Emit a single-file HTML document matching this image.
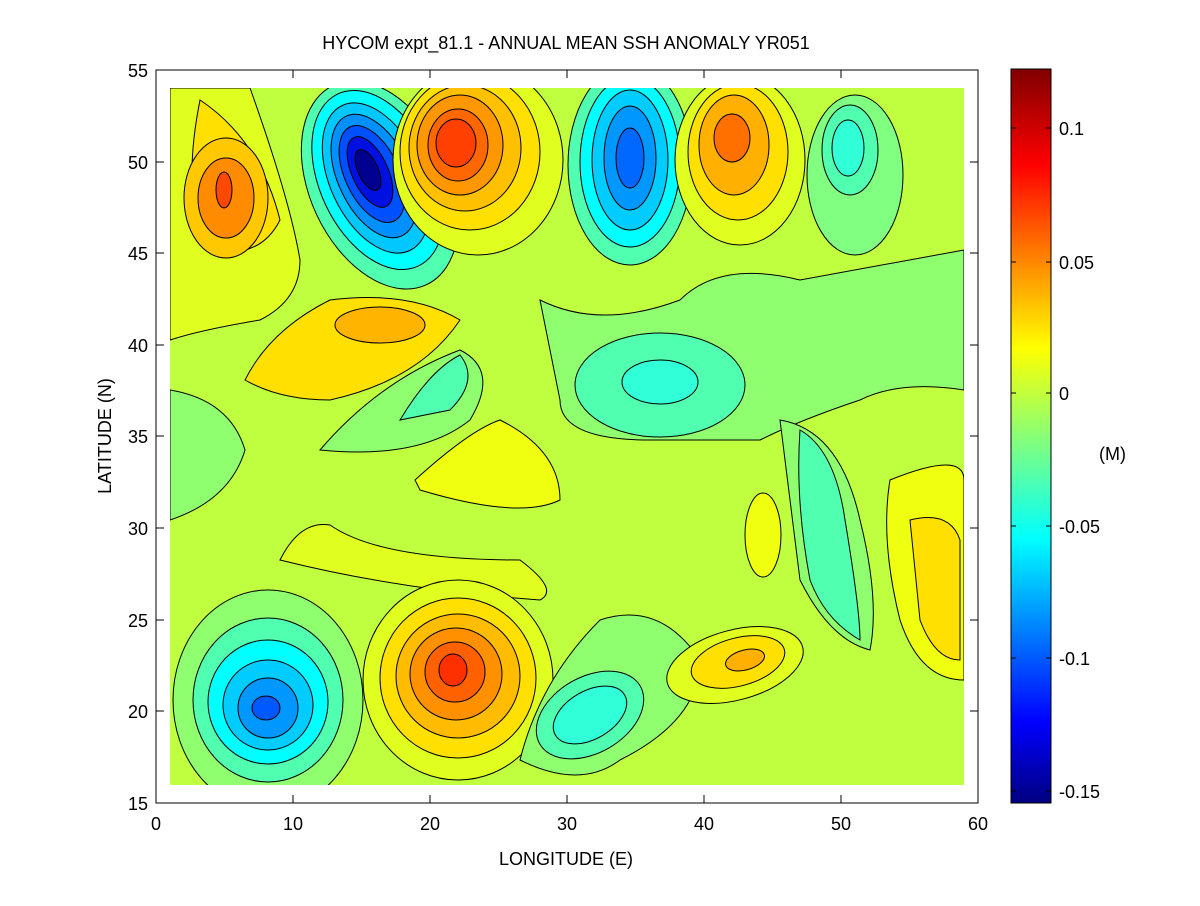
<!DOCTYPE html>
<html><head><meta charset="utf-8"><style>
body{margin:0;background:#fff;}
svg text{font-family:"Liberation Sans",sans-serif;font-size:18px;fill:#000;}
</style></head><body>
<svg width="1200" height="901" xmlns="http://www.w3.org/2000/svg">
<defs>
<clipPath id="c"><rect x="170" y="88" width="794" height="697"/></clipPath>
<linearGradient id="jet" x1="0" y1="1" x2="0" y2="0">
<stop offset="0" stop-color="#000080"/>
<stop offset="0.11" stop-color="#0000ff"/>
<stop offset="0.36" stop-color="#00ffff"/>
<stop offset="0.62" stop-color="#ffff00"/>
<stop offset="0.87" stop-color="#ff0000"/>
<stop offset="1" stop-color="#800000"/>
</linearGradient>
</defs>
<rect x="156" y="70" width="822" height="733" fill="#fff" stroke="#000"/>
<g clip-path="url(#c)" stroke="#000" stroke-width="1">
<rect x="170" y="88" width="794" height="697" fill="#bfff40" stroke="none"/>
<path d="M540 300 Q600 330 680 300 Q720 260 800 280 L964 250 L964 390 Q900 380 860 400 Q800 420 760 440 Q700 440 650 440 Q560 440 560 400 Z" fill="#90ff6f"/>
<ellipse cx="660" cy="385" rx="85" ry="52" fill="#50ffb0"/>
<ellipse cx="660" cy="382" rx="38" ry="22" fill="#30ffd8"/>
<path d="M780 420 Q840 430 860 520 Q880 600 870 650 Q830 640 800 580 Q790 500 780 420 Z" fill="#90ff6f"/>
<path d="M800 430 Q835 450 845 520 Q860 610 860 640 Q825 620 810 580 Q795 500 800 430 Z" fill="#50ffb0"/>
<path d="M170 390 Q230 400 245 450 Q230 500 170 520 Z" fill="#90ff6f"/>
<path d="M320 450 Q380 380 460 350 Q500 370 470 420 Q420 460 320 450 Z" fill="#90ff6f"/>
<path d="M400 420 Q430 370 460 355 Q480 380 450 410 Z" fill="#50ffb0"/>
<path d="M170 88 L250 88 Q290 200 300 260 Q300 300 260 320 Q200 330 170 340 Z" fill="#e0ff20"/>
<path d="M200 100 Q260 140 280 220 Q260 260 210 250 Q180 200 200 100 Z" fill="#ffe000"/>
<ellipse cx="226" cy="198" rx="42" ry="60" fill="#ffc800"/>
<ellipse cx="226" cy="198" rx="28" ry="40" fill="#ff8c00"/>
<ellipse cx="224" cy="190" rx="8" ry="18" fill="#ff4800"/>
<path d="M245 380 Q270 330 330 300 Q410 290 460 320 Q420 380 330 400 Q280 400 245 380 Z" fill="#ffe000"/>
<ellipse cx="380" cy="325" rx="45" ry="18" fill="#ffb400"/>
<path d="M415 480 Q470 430 500 420 Q560 450 560 500 Q520 520 420 490 Z" fill="#f0ff10"/>
<path d="M280 560 Q300 520 330 525 Q380 560 520 560 Q560 590 540 600 Q400 590 280 560 Z" fill="#e0ff20"/>
<path d="M890 480 Q964 450 964 480 L964 680 Q920 680 900 620 Q880 540 890 480 Z" fill="#f0ff10"/>
<path d="M910 520 Q950 510 960 540 L960 660 Q935 660 920 620 Z" fill="#ffe000"/>
<ellipse cx="763" cy="535" rx="18" ry="42" fill="#f0ff10"/>
<ellipse cx="380" cy="185" rx="70" ry="110" transform="rotate(-25 380 185)" fill="#50ffb0"/>
<ellipse cx="378" cy="180" rx="58" ry="95" transform="rotate(-25 378 180)" fill="#00ffff"/>
<ellipse cx="376" cy="178" rx="46" ry="80" transform="rotate(-25 376 178)" fill="#00c8ff"/>
<ellipse cx="374" cy="176" rx="36" ry="66" transform="rotate(-25 374 176)" fill="#0090ff"/>
<ellipse cx="372" cy="174" rx="27" ry="52" transform="rotate(-25 372 174)" fill="#0050ff"/>
<ellipse cx="370" cy="172" rx="18" ry="38" transform="rotate(-25 370 172)" fill="#0010e0"/>
<ellipse cx="368" cy="170" rx="10" ry="22" transform="rotate(-25 368 170)" fill="#000090"/>
<ellipse cx="478" cy="160" rx="85" ry="95" fill="#e0ff20"/>
<ellipse cx="470" cy="152" rx="70" ry="78" fill="#ffe000"/>
<ellipse cx="465" cy="148" rx="56" ry="63" fill="#ffc000"/>
<ellipse cx="460" cy="145" rx="43" ry="50" fill="#ff9800"/>
<ellipse cx="458" cy="145" rx="30" ry="36" fill="#ff6800"/>
<ellipse cx="456" cy="143" rx="20" ry="24" fill="#ff4000"/>
<ellipse cx="630" cy="165" rx="62" ry="100" fill="#50ffb0"/>
<ellipse cx="630" cy="162" rx="50" ry="85" fill="#00ffff"/>
<ellipse cx="630" cy="160" rx="38" ry="70" fill="#00ccff"/>
<ellipse cx="630" cy="158" rx="26" ry="52" fill="#0098ff"/>
<ellipse cx="630" cy="158" rx="14" ry="30" fill="#0068ff"/>
<ellipse cx="740" cy="160" rx="65" ry="85" fill="#e0ff20"/>
<ellipse cx="738" cy="152" rx="50" ry="68" fill="#ffe000"/>
<ellipse cx="734" cy="145" rx="35" ry="50" fill="#ffb000"/>
<ellipse cx="732" cy="138" rx="18" ry="24" fill="#ff7000"/>
<ellipse cx="855" cy="175" rx="48" ry="80" fill="#80ff80"/>
<ellipse cx="850" cy="150" rx="28" ry="45" fill="#50ffb0"/>
<ellipse cx="848" cy="148" rx="16" ry="28" fill="#30ffd8"/>
<ellipse cx="268" cy="700" rx="95" ry="110" fill="#90ff6f"/>
<ellipse cx="268" cy="700" rx="75" ry="82" fill="#50ffb0"/>
<ellipse cx="268" cy="702" rx="60" ry="62" fill="#00ffff"/>
<ellipse cx="268" cy="705" rx="45" ry="45" fill="#00ccff"/>
<ellipse cx="268" cy="708" rx="30" ry="30" fill="#0098ff"/>
<ellipse cx="266" cy="708" rx="14" ry="12" fill="#0058ff"/>
<ellipse cx="458" cy="680" rx="95" ry="100" fill="#e0ff20"/>
<ellipse cx="458" cy="678" rx="78" ry="80" fill="#ffe000"/>
<ellipse cx="458" cy="676" rx="62" ry="62" fill="#ffbc00"/>
<ellipse cx="456" cy="674" rx="46" ry="46" fill="#ff9000"/>
<ellipse cx="455" cy="672" rx="30" ry="30" fill="#ff6000"/>
<ellipse cx="453" cy="670" rx="14" ry="16" fill="#ff3000"/>
<path d="M520 760 Q540 680 600 620 Q660 600 700 660 Q700 720 620 760 Q580 790 520 760 Z" fill="#90ff6f"/>
<ellipse cx="590" cy="715" rx="58" ry="38" transform="rotate(-30 590 715)" fill="#50ffb0"/>
<ellipse cx="590" cy="715" rx="40" ry="24" transform="rotate(-30 590 715)" fill="#30ffd8"/>
<ellipse cx="735" cy="665" rx="70" ry="35" transform="rotate(-15 735 665)" fill="#e0ff20"/>
<ellipse cx="738" cy="662" rx="48" ry="24" transform="rotate(-15 738 662)" fill="#ffe000"/>
<ellipse cx="745" cy="660" rx="20" ry="10" transform="rotate(-15 745 660)" fill="#ffb000"/>
</g>
<rect x="156" y="70" width="822" height="733" fill="none" stroke="#000"/>
<g stroke="#000">
<path d="M156 803v-8M293 803v-8M430 803v-8M567 803v-8M704 803v-8M841 803v-8M978 803v-8M156 70v8M293 70v8M430 70v8M567 70v8M704 70v8M841 70v8M978 70v8"/>
<path d="M156 803h8M156 711h8M156 620h8M156 528h8M156 436h8M156 345h8M156 253h8M156 162h8M156 70h8M978 711h-8M978 620h-8M978 528h-8M978 436h-8M978 345h-8M978 253h-8M978 162h-8"/>
</g>
<g text-anchor="middle">
<text x="156" y="830">0</text><text x="293" y="830">10</text><text x="430" y="830">20</text><text x="567" y="830">30</text><text x="704" y="830">40</text><text x="841" y="830">50</text><text x="978" y="830">60</text>
<text x="566" y="865">LONGITUDE (E)</text>
<text x="566" y="49">HYCOM expt_81.1 - ANNUAL MEAN SSH ANOMALY YR051</text>
</g>
<g text-anchor="end">
<text x="148" y="810">15</text><text x="148" y="718">20</text><text x="148" y="627">25</text><text x="148" y="535">30</text><text x="148" y="443">35</text><text x="148" y="352">40</text><text x="148" y="260">45</text><text x="148" y="169">50</text><text x="148" y="77">55</text>
</g>
<text x="111" y="436" text-anchor="middle" transform="rotate(-90 111 436)">LATITUDE (N)</text>
<rect x="1011" y="69" width="40" height="734" fill="url(#jet)" stroke="#000"/>
<g stroke="#000"><path d="M1011 128h5M1051 128h-5M1011 262h5M1051 262h-5M1011 393h5M1051 393h-5M1011 526h5M1051 526h-5M1011 658h5M1051 658h-5M1011 791h5M1051 791h-5"/></g>
<g>
<text x="1059" y="135">0.1</text><text x="1059" y="269">0.05</text><text x="1059" y="400">0</text><text x="1059" y="533">-0.05</text><text x="1059" y="665">-0.1</text><text x="1059" y="798">-0.15</text>
<text x="1099" y="460">(M)</text>
</g>
</svg>
</body></html>
